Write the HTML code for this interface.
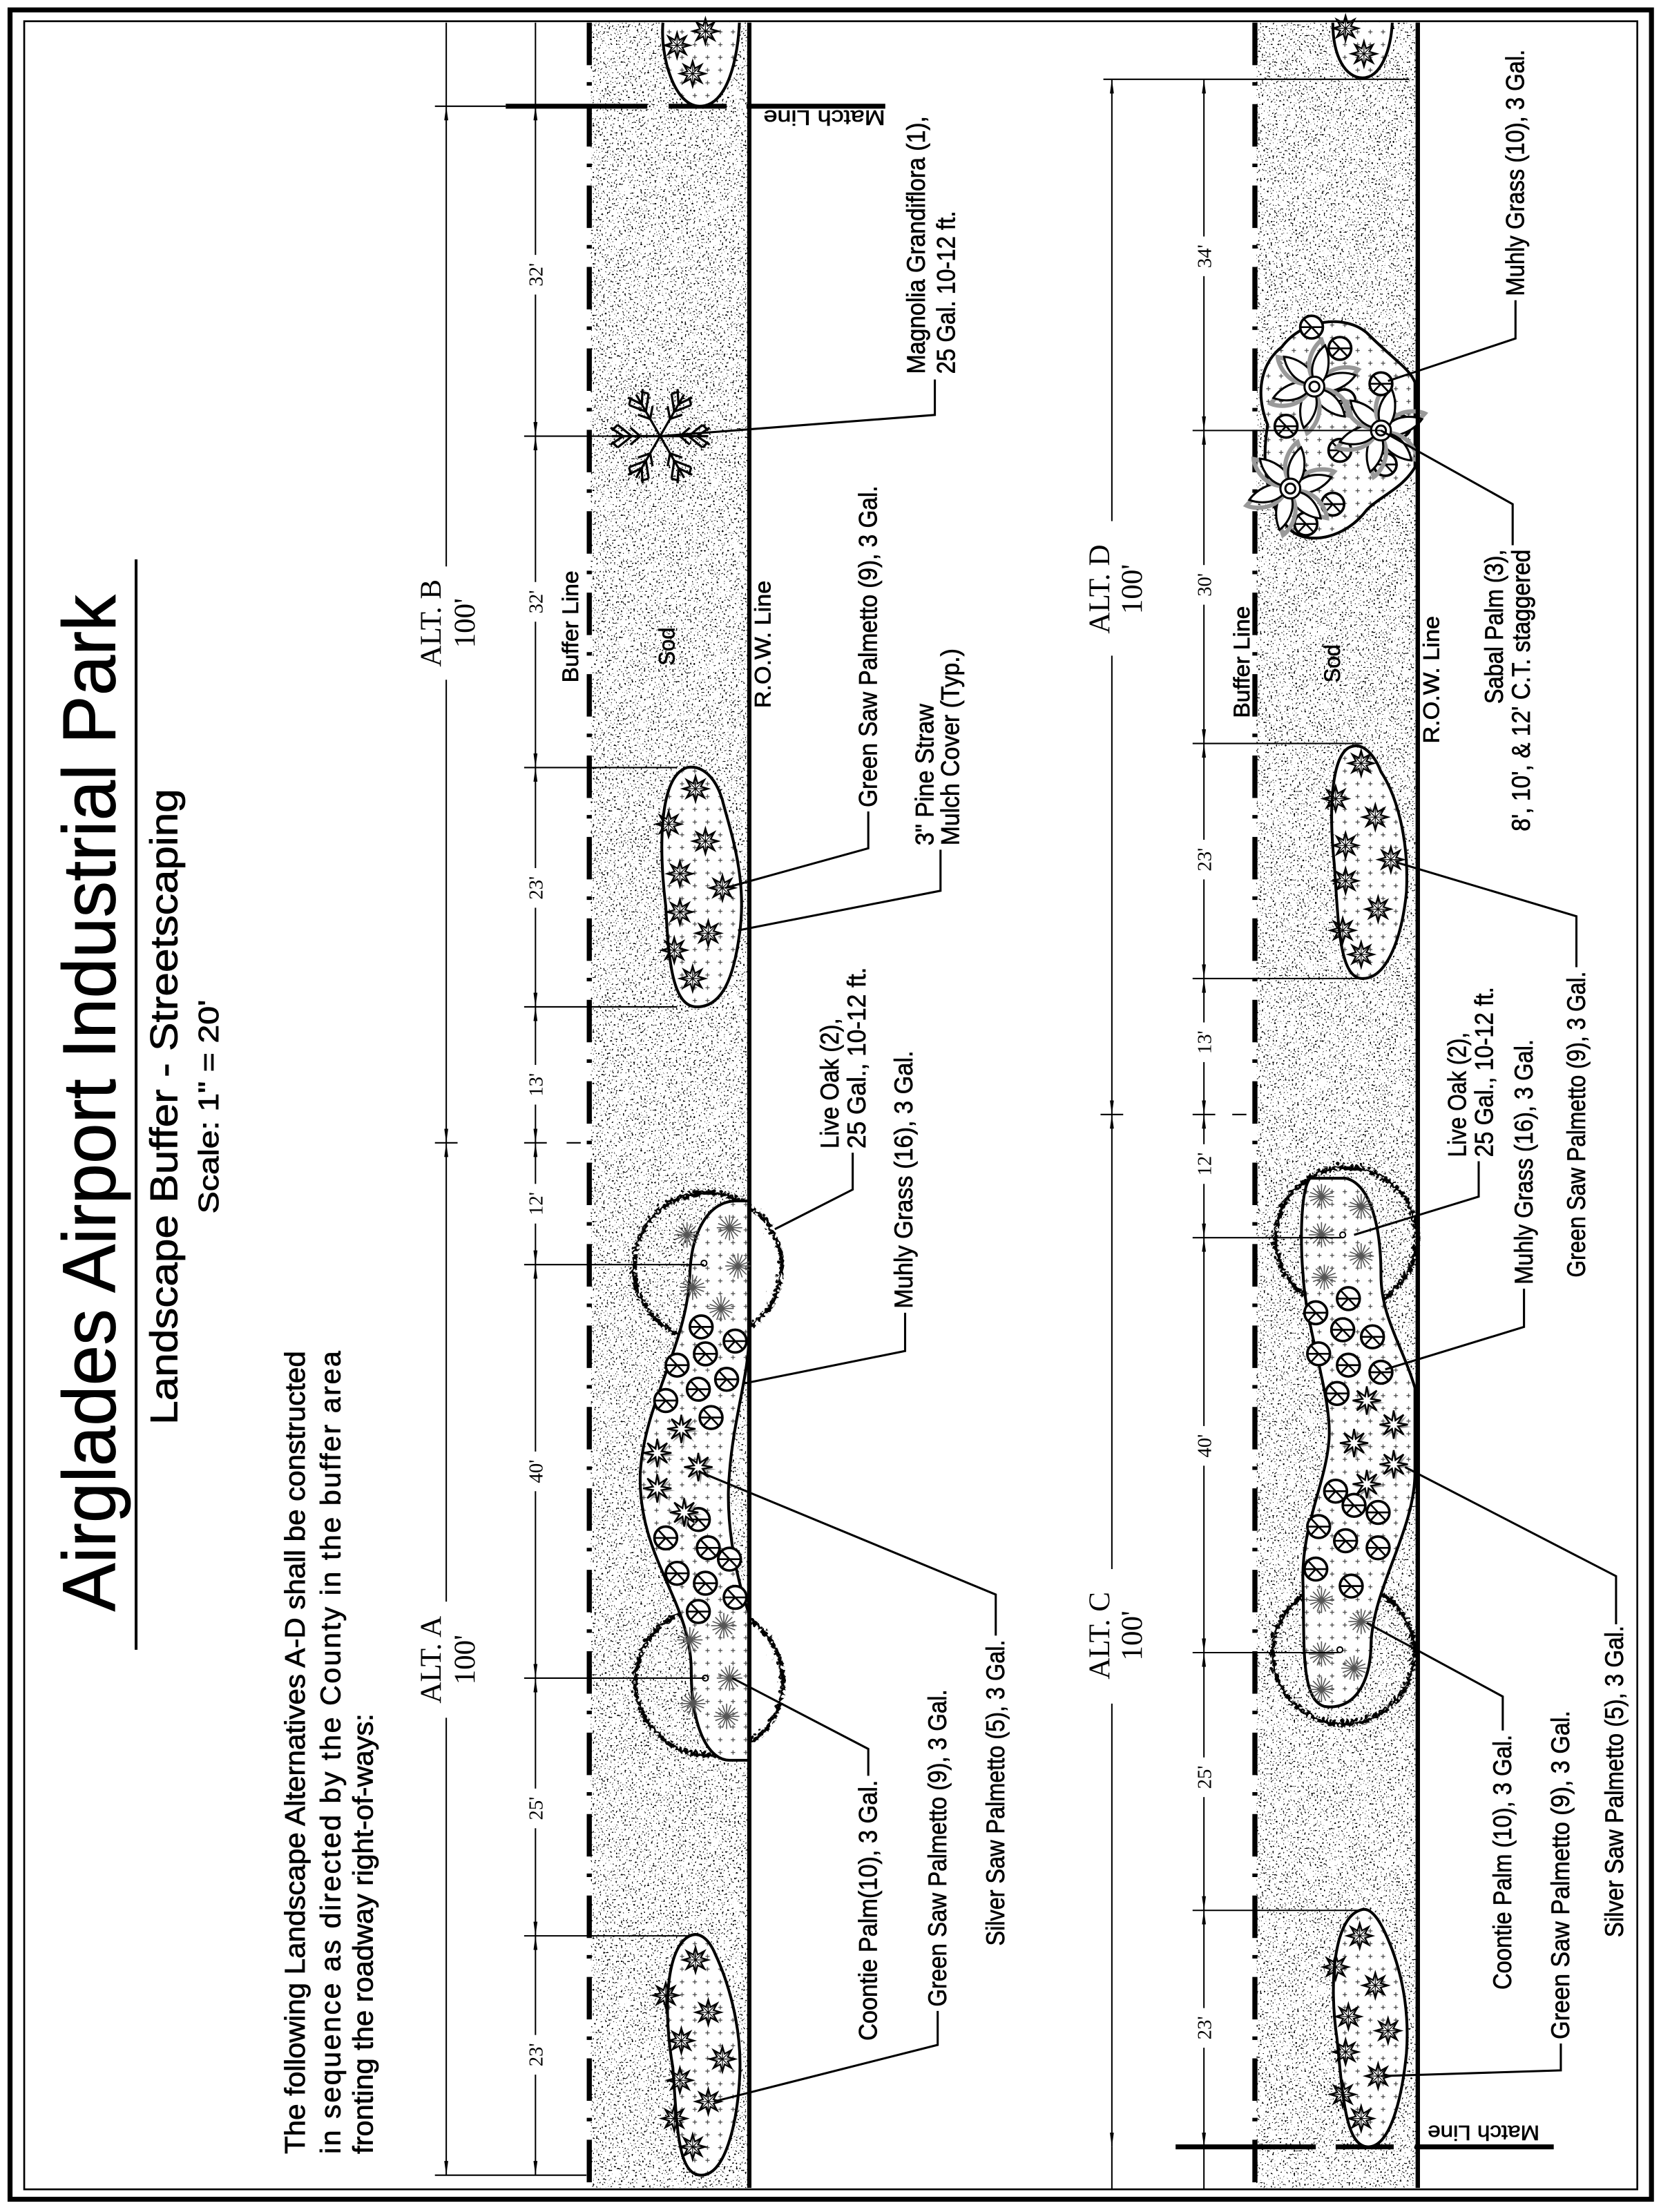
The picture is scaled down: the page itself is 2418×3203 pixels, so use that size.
<!DOCTYPE html>
<html><head><meta charset="utf-8"><style>
html,body{margin:0;padding:0;background:#fff}
svg{display:block}
.l{font-family:"Liberation Sans",Arial,sans-serif;fill:#000}
.s{font-family:"Liberation Serif",serif;fill:#000}
</style></head><body>
<svg xmlns="http://www.w3.org/2000/svg" xmlns:xlink="http://www.w3.org/1999/xlink" width="2418" height="3203" viewBox="0 0 1179 1562">
<defs>
<filter id="stip" filterUnits="userSpaceOnUse" x="0" y="0" width="1179" height="1562">
<feTurbulence type="fractalNoise" baseFrequency="0.8" numOctaves="1" seed="7" result="n"/>
<feColorMatrix in="n" type="matrix" values="0 0 0 0 0  0 0 0 0 0  0 0 0 0 0  25 0 0 0 -15.7" result="d"/>
<feComposite in="d" in2="SourceAlpha" operator="in"/>
</filter>
<filter id="wav" x="-20%" y="-20%" width="140%" height="140%">
<feTurbulence type="turbulence" baseFrequency="0.3" numOctaves="1" seed="2" result="t"/>
<feDisplacementMap in="SourceGraphic" in2="t" scale="7" xChannelSelector="R" yChannelSelector="G"/>
</filter>
<pattern id="plus" width="9" height="9" patternUnits="userSpaceOnUse">
<rect width="9" height="9" fill="#fff"/>
<path d="M3,4.5h3M4.5,3v3" stroke="#444" stroke-width="0.6"/>
</pattern>
<marker id="ar" markerWidth="10" markerHeight="4" refX="10" refY="2" orient="auto-start-reverse" markerUnits="userSpaceOnUse">
<path d="M0,0.6 L10,2 L0,3.4 Z" fill="#000"/>
</marker>
<g id="gsp" fill="none" stroke="#000" stroke-width="1.1">
<path d="M9,0 3.7,1.53 6.36,6.36 1.53,3.7 0,9 -1.53,3.7 -6.36,6.36 -3.7,1.53 -9,0 -3.7,-1.53 -6.36,-6.36 -1.53,-3.7 0,-9 1.53,-3.7 6.36,-6.36 3.7,-1.53Z"/>
<path d="M-9,0H9M0,-9V9M-6.4,-6.4L6.4,6.4M-6.4,6.4L6.4,-6.4" stroke-width="0.6"/>
</g>
<g id="mu" fill="none" stroke="#000" stroke-width="1.8">
<circle r="8" fill="#fff"/>
<path d="M-8,0H8M0,0L-5.5,5.8M0,0L5.5,5.8M0,0L-5.5,-5.8" stroke-width="1.3"/>
</g>
<g id="sv">
<path d="M11,0 3,1.2 7.8,7.8 1.2,3 0,11 -1.2,3 -7.8,7.8 -3,1.2 -11,0 -3,-1.2 -7.8,-7.8 -1.2,-3 0,-11 1.2,-3 7.8,-7.8 3,-1.2Z" fill="#999" transform="translate(1.5,1.5)"/>
<path d="M10,0 3,1.2 7,7 1.2,3 0,10 -1.2,3 -7,7 -3,1.2 -10,0 -3,-1.2 -7,-7 -1.2,-3 0,-10 1.2,-3 7,-7 3,-1.2Z" fill="#fff" stroke="#000" stroke-width="1.2"/>
</g>
<g id="co" stroke="#555" stroke-width="0.8" fill="none">
<path d="M-9,0H9M0,-9V9M-6,-6L6,6M-6,6L6,-6M-8,-3L8,3M-8,3L8,-3M-3,-8L3,8M3,-8L-3,8"/>
</g>
<g id="sab" fill="#fff" stroke="#000" stroke-width="1.5">
<g id="pet"><path d="M4,-3 C12,-14 26,-12 30,-10 C24,-3 14,4 4,3Z" fill="none" stroke="#999" stroke-width="3" transform="translate(1,-2)"/><path d="M4,-3 C12,-12 24,-10 29,-8 C24,-1 14,5 4,3Z"/></g>
<use xlink:href="#pet" transform="rotate(60)"/><use xlink:href="#pet" transform="rotate(120)"/><use xlink:href="#pet" transform="rotate(180)"/><use xlink:href="#pet" transform="rotate(240)"/><use xlink:href="#pet" transform="rotate(300)"/>
<circle r="7"/><circle r="3.5"/>
</g>
<g id="mag" fill="none" stroke="#000" stroke-width="1.6">
<g id="br"><path d="M0,0L34,0M20,0L30,-8M20,0L30,8M26,0L35,-6M26,0L35,6M14,0L21,-6M14,0L21,6M30,-8L34,-4M30,8L34,4"/></g>
<use xlink:href="#br" transform="rotate(60)"/><use xlink:href="#br" transform="rotate(120)"/><use xlink:href="#br" transform="rotate(180)"/><use xlink:href="#br" transform="rotate(240)"/><use xlink:href="#br" transform="rotate(300)"/>
</g>
</defs>

<rect width="1179" height="1562" fill="#fff"/>

<g filter="url(#stip)">
<rect x="417" y="16" width="112" height="1529" fill="#000"/>
<rect x="887" y="16" width="114" height="1529" fill="#000"/>
</g>

<rect x="7" y="7" width="1159" height="1546" fill="none" stroke="#000" stroke-width="3.5"/>
<rect x="17" y="15" width="1139" height="1531" fill="none" stroke="#000" stroke-width="1.3"/>

<g stroke="#000" fill="none">
<path d="M416,16V1545M886,16V1545" stroke-width="3.6" stroke-dasharray="30 12 2.5 13"/>
<path d="M529,16V1545M1001,16V1545" stroke-width="3"/>
</g>

<g class="l" stroke="#000" stroke-width="0.4">
<text style="font-size:53px" transform="translate(81,1138) rotate(-90)" textLength="718" lengthAdjust="spacingAndGlyphs">Airglades Airport Industrial Park</text>
<text style="font-size:27px" transform="translate(125,1006) rotate(-90)" textLength="449" lengthAdjust="spacingAndGlyphs">Landscape Buffer - Streetscaping</text>
<text style="font-size:20px" transform="translate(154,857) rotate(-90)" textLength="151" lengthAdjust="spacingAndGlyphs">Scale: 1" = 20'</text>
<text style="font-size:20px" transform="translate(215,1521) rotate(-90)" textLength="567" lengthAdjust="spacingAndGlyphs">The following Landscape Alternatives A-D shall be constructed</text>
<text style="font-size:20px" transform="translate(240,1521) rotate(-90)" textLength="567" lengthAdjust="spacing">in sequence as directed by the County in the buffer area</text>
<text style="font-size:20px" transform="translate(263,1521) rotate(-90)" textLength="311" lengthAdjust="spacingAndGlyphs">fronting the roadway right-of-ways:</text>
</g>
<path d="M96,395V1165" stroke="#000" stroke-width="2"/>

<g stroke="#000">
<path d="M307,75H357" stroke-width="1"/>
<path d="M357,75H457M472,75H513M527,75H625" stroke-width="3.5"/>
<path d="M779,56H995" stroke-width="1"/>
<path d="M830,1516H929M943,1516H984M999,1516H1097" stroke-width="3.5"/>
</g>
<g class="l" style="font-size:15px" stroke="#000" stroke-width="0.3">
<text transform="translate(625,78) rotate(180)" textLength="86" lengthAdjust="spacingAndGlyphs">Match Line</text>
<text transform="translate(1087,1501) rotate(180)" textLength="79" lengthAdjust="spacingAndGlyphs">Match Line</text>
</g>

<!-- STRIP 1 -->
<path d="M468,16 C466,40 476,75 494,75 C514,75 521,40 522,16" fill="url(#plus)" stroke="#000" stroke-width="2"/>
<use xlink:href="#gsp" x="478" y="32"/><use xlink:href="#gsp" x="498" y="22"/><use xlink:href="#gsp" x="489" y="52"/>
<use xlink:href="#mag" x="466" y="308"/>
<path d="M485,542 C465,548 465,600 470,640 C472,680 475,711 492,711 C510,711 518,690 522,660 C528,620 515,585 510,565 C505,548 495,540 485,542 Z" fill="url(#plus)" stroke="#000" stroke-width="2"/>
<use xlink:href="#gsp" x="491" y="557"/><use xlink:href="#gsp" x="472" y="582"/><use xlink:href="#gsp" x="498" y="594"/><use xlink:href="#gsp" x="480" y="617"/><use xlink:href="#gsp" x="510" y="627"/><use xlink:href="#gsp" x="480" y="644"/><use xlink:href="#gsp" x="500" y="659"/><use xlink:href="#gsp" x="476" y="671"/><use xlink:href="#gsp" x="489" y="691"/>
<g filter="url(#wav)" fill="none" stroke="#000" stroke-width="3">
<circle cx="497" cy="892" r="52"/><circle cx="498" cy="1185" r="52"/>
</g>
<path d="M520,848 C500,848 488,870 487,900 C485,950 455,990 452,1040 C450,1100 488,1130 488,1180 C488,1220 500,1243 515,1243 L529,1243 L529,1140 C518,1110 512,1070 515,1040 C518,1000 529,970 529,940 L529,848 Z" fill="url(#plus)" stroke="#000" stroke-width="2"/>
<path d="M529,848V1243" stroke="#000" stroke-width="3"/>
<g>
<use xlink:href="#co" x="485" y="872"/><use xlink:href="#co" x="515" y="867"/><use xlink:href="#co" x="521" y="894"/><use xlink:href="#co" x="489" y="909"/><use xlink:href="#co" x="509" y="924"/>
<use xlink:href="#co" x="487" y="1158"/><use xlink:href="#co" x="511" y="1148"/><use xlink:href="#co" x="515" y="1185"/><use xlink:href="#co" x="489" y="1203"/><use xlink:href="#co" x="513" y="1212"/>
<circle cx="497" cy="892" r="2" fill="none" stroke="#000"/><circle cx="498" cy="1185" r="2" fill="none" stroke="#000"/>
<use xlink:href="#mu" x="495" y="937"/><use xlink:href="#mu" x="519" y="947"/><use xlink:href="#mu" x="478" y="964"/><use xlink:href="#mu" x="498" y="956"/><use xlink:href="#mu" x="493" y="981"/><use xlink:href="#mu" x="513" y="974"/><use xlink:href="#mu" x="470" y="989"/><use xlink:href="#mu" x="502" y="1001"/>
<use xlink:href="#mu" x="493" y="1073"/><use xlink:href="#mu" x="470" y="1086"/><use xlink:href="#mu" x="500" y="1093"/><use xlink:href="#mu" x="515" y="1101"/><use xlink:href="#mu" x="478" y="1111"/><use xlink:href="#mu" x="498" y="1118"/><use xlink:href="#mu" x="519" y="1128"/><use xlink:href="#mu" x="493" y="1138"/>
<use xlink:href="#sv" x="481" y="1009"/><use xlink:href="#sv" x="464" y="1026"/><use xlink:href="#sv" x="493" y="1036"/><use xlink:href="#sv" x="464" y="1051"/><use xlink:href="#sv" x="483" y="1068"/>
</g>
<path d="M487,1367 C470,1375 468,1420 475,1460 C478,1500 478,1536 495,1536 C512,1536 520,1500 522,1470 C525,1430 512,1395 505,1380 C500,1368 493,1364 487,1367 Z" fill="url(#plus)" stroke="#000" stroke-width="2"/>
<use xlink:href="#gsp" x="491" y="1384"/><use xlink:href="#gsp" x="470" y="1409"/><use xlink:href="#gsp" x="500" y="1421"/><use xlink:href="#gsp" x="481" y="1441"/><use xlink:href="#gsp" x="510" y="1454"/><use xlink:href="#gsp" x="480" y="1469"/><use xlink:href="#gsp" x="500" y="1484"/><use xlink:href="#gsp" x="476" y="1496"/><use xlink:href="#gsp" x="489" y="1516"/>

<!-- STRIP 2 -->
<path d="M941,16 C941,40 950,55 962,55 C975,55 982,35 983,16" fill="url(#plus)" stroke="#000" stroke-width="2"/>
<use xlink:href="#gsp" x="950" y="20"/><use xlink:href="#gsp" x="963" y="38"/>
<path d="M905,245 C920,225 950,222 965,235 C985,255 995,260 999,270 L999,330 C990,345 975,350 965,360 C950,380 925,385 912,375 C895,360 890,330 895,300 C885,275 892,255 905,245 Z" fill="url(#plus)" stroke="#000" stroke-width="2"/>
<use xlink:href="#mu" x="926" y="231"/><use xlink:href="#mu" x="946" y="246"/><use xlink:href="#mu" x="949" y="283"/><use xlink:href="#mu" x="908" y="301"/><use xlink:href="#mu" x="946" y="318"/><use xlink:href="#mu" x="916" y="338"/><use xlink:href="#mu" x="941" y="356"/><use xlink:href="#mu" x="922" y="370"/><use xlink:href="#mu" x="978" y="328"/><use xlink:href="#mu" x="988" y="301"/>
<use xlink:href="#sab" x="928" y="273"/><use xlink:href="#sab" x="975" y="304"/><use xlink:href="#sab" x="911" y="345"/>
<use xlink:href="#mu" x="975" y="271"/>
<path d="M955,527 C940,530 938,570 942,610 C945,650 945,691 962,691 C980,691 990,660 993,630 C995,590 985,560 975,545 C970,532 962,525 955,527 Z" fill="url(#plus)" stroke="#000" stroke-width="2"/>
<use xlink:href="#gsp" x="961" y="539"/><use xlink:href="#gsp" x="943" y="564"/><use xlink:href="#gsp" x="971" y="577"/><use xlink:href="#gsp" x="950" y="597"/><use xlink:href="#gsp" x="982" y="607"/><use xlink:href="#gsp" x="950" y="622"/><use xlink:href="#gsp" x="973" y="642"/><use xlink:href="#gsp" x="948" y="657"/><use xlink:href="#gsp" x="961" y="674"/>
<g filter="url(#wav)" fill="none" stroke="#000" stroke-width="3">
<circle cx="948" cy="872" r="50"/><circle cx="946" cy="1165" r="50"/>
</g>
<path d="M925,832 C918,840 918,880 920,900 C922,940 942,990 938,1020 C935,1050 918,1080 920,1120 C921,1160 918,1200 935,1205 C955,1208 968,1190 968,1160 C970,1120 999,1080 999,1040 L999,980 C990,950 975,930 975,900 C975,860 965,835 950,832 Z" fill="url(#plus)" stroke="#000" stroke-width="2"/>
<use xlink:href="#co" x="933" y="845"/><use xlink:href="#co" x="961" y="852"/><use xlink:href="#co" x="933" y="872"/><use xlink:href="#co" x="961" y="887"/><use xlink:href="#co" x="935" y="902"/>
<use xlink:href="#co" x="933" y="1130"/><use xlink:href="#co" x="961" y="1145"/><use xlink:href="#co" x="933" y="1168"/><use xlink:href="#co" x="956" y="1178"/><use xlink:href="#co" x="933" y="1193"/>
<circle cx="948" cy="872" r="2" fill="none" stroke="#000"/><circle cx="946" cy="1165" r="2" fill="none" stroke="#000"/>
<use xlink:href="#mu" x="929" y="927"/><use xlink:href="#mu" x="952" y="917"/><use xlink:href="#mu" x="948" y="939"/><use xlink:href="#mu" x="969" y="944"/><use xlink:href="#mu" x="931" y="956"/><use xlink:href="#mu" x="952" y="964"/><use xlink:href="#mu" x="975" y="969"/><use xlink:href="#mu" x="944" y="984"/>
<use xlink:href="#mu" x="943" y="1053"/><use xlink:href="#mu" x="956" y="1063"/><use xlink:href="#mu" x="973" y="1068"/><use xlink:href="#mu" x="931" y="1078"/><use xlink:href="#mu" x="950" y="1088"/><use xlink:href="#mu" x="973" y="1093"/><use xlink:href="#mu" x="929" y="1108"/><use xlink:href="#mu" x="954" y="1120"/>
<use xlink:href="#sv" x="965" y="989"/><use xlink:href="#sv" x="984" y="1006"/><use xlink:href="#sv" x="956" y="1019"/><use xlink:href="#sv" x="984" y="1034"/><use xlink:href="#sv" x="965" y="1048"/>
<path d="M960,1349 C942,1355 938,1400 944,1440 C948,1480 950,1516 966,1516 C982,1516 990,1480 993,1450 C996,1410 985,1380 978,1365 C972,1352 966,1346 960,1349 Z" fill="url(#plus)" stroke="#000" stroke-width="2"/>
<use xlink:href="#gsp" x="960" y="1367"/><use xlink:href="#gsp" x="943" y="1389"/><use xlink:href="#gsp" x="971" y="1402"/><use xlink:href="#gsp" x="952" y="1424"/><use xlink:href="#gsp" x="980" y="1434"/><use xlink:href="#gsp" x="950" y="1449"/><use xlink:href="#gsp" x="973" y="1466"/><use xlink:href="#gsp" x="948" y="1479"/><use xlink:href="#gsp" x="961" y="1496"/>
<path d="M1001,16V1545" stroke="#000" stroke-width="3"/>

<!-- dimensions -->
<g stroke="#000" stroke-width="1" fill="none">
<path d="M315,75V807" marker-start="url(#ar)" marker-end="url(#ar)"/>
<path d="M315,807V1536" marker-start="url(#ar)" marker-end="url(#ar)"/>
<path d="M307,807H323M307,1536H414M400,807H410"/>
<path d="M378,16V75"/><path d="M315,16V75"/>
<path d="M378,75V308" marker-start="url(#ar)" marker-end="url(#ar)"/>
<path d="M378,308V542" marker-start="url(#ar)" marker-end="url(#ar)"/>
<path d="M378,542V711" marker-start="url(#ar)" marker-end="url(#ar)"/>
<path d="M378,711V807" marker-start="url(#ar)" marker-end="url(#ar)"/>
<path d="M378,807V893" marker-start="url(#ar)" marker-end="url(#ar)"/>
<path d="M378,893V1185" marker-start="url(#ar)" marker-end="url(#ar)"/>
<path d="M378,1185V1367" marker-start="url(#ar)" marker-end="url(#ar)"/>
<path d="M378,1367V1536" marker-start="url(#ar)" marker-end="url(#ar)"/>
<path d="M370,308H466M370,542H478M370,711H478M370,807H386M370,893H497M370,1185H498M370,1367H486"/>
<path d="M785,56V787" marker-start="url(#ar)" marker-end="url(#ar)"/>
<path d="M785,787V1516" marker-start="url(#ar)" marker-end="url(#ar)"/>
<path d="M777,787H793M870,787H880M785,1516V1546M850,1516V1546"/>
<path d="M850,56V304" marker-start="url(#ar)" marker-end="url(#ar)"/>
<path d="M850,304V525" marker-start="url(#ar)" marker-end="url(#ar)"/>
<path d="M850,525V691" marker-start="url(#ar)" marker-end="url(#ar)"/>
<path d="M850,691V787" marker-start="url(#ar)" marker-end="url(#ar)"/>
<path d="M850,787V874" marker-start="url(#ar)" marker-end="url(#ar)"/>
<path d="M850,874V1167" marker-start="url(#ar)" marker-end="url(#ar)"/>
<path d="M850,1167V1349" marker-start="url(#ar)" marker-end="url(#ar)"/>
<path d="M850,1349V1516" marker-start="url(#ar)" marker-end="url(#ar)"/>
<path d="M842,304H975M842,525H962M842,691H960M842,787H858M842,874H948M842,1167H946M842,1349H960"/>
</g>
<g fill="#fff">
<rect x="299" y="400" width="42" height="80"/><rect x="299" y="1131" width="42" height="82"/>
<rect x="769" y="368" width="42" height="95"/><rect x="769" y="1108" width="42" height="95"/>
<rect x="372" y="180" width="12" height="28"/><rect x="372" y="411" width="12" height="28"/><rect x="372" y="613" width="12" height="28"/><rect x="372" y="752" width="12" height="28"/><rect x="372" y="836" width="12" height="28"/><rect x="372" y="1025" width="12" height="28"/><rect x="372" y="1263" width="12" height="28"/><rect x="372" y="1437" width="12" height="28"/>
<rect x="844" y="167" width="12" height="28"/><rect x="844" y="399" width="12" height="28"/><rect x="844" y="593" width="12" height="28"/><rect x="844" y="722" width="12" height="28"/><rect x="844" y="808" width="12" height="28"/><rect x="844" y="1007" width="12" height="28"/><rect x="844" y="1241" width="12" height="28"/><rect x="844" y="1418" width="12" height="28"/>
</g>
<g class="s" style="font-size:14px" text-anchor="middle">
<text transform="translate(383,194) rotate(-90)">32'</text><text transform="translate(383,425) rotate(-90)">32'</text><text transform="translate(383,627) rotate(-90)">23'</text><text transform="translate(383,766) rotate(-90)">13'</text><text transform="translate(383,850) rotate(-90)">12'</text><text transform="translate(383,1039) rotate(-90)">40'</text><text transform="translate(383,1277) rotate(-90)">25'</text><text transform="translate(383,1451) rotate(-90)">23'</text>
<text transform="translate(855,181) rotate(-90)">34'</text><text transform="translate(855,413) rotate(-90)">30'</text><text transform="translate(855,607) rotate(-90)">23'</text><text transform="translate(855,736) rotate(-90)">13'</text><text transform="translate(855,822) rotate(-90)">12'</text><text transform="translate(855,1021) rotate(-90)">40'</text><text transform="translate(855,1255) rotate(-90)">25'</text><text transform="translate(855,1432) rotate(-90)">23'</text>
</g>
<g class="s" style="font-size:21px" text-anchor="middle">
<text transform="translate(311,440) rotate(-90)">ALT. B</text><text transform="translate(335,440) rotate(-90)">100'</text>
<text transform="translate(311,1172) rotate(-90)">ALT. A</text><text transform="translate(335,1172) rotate(-90)">100'</text>
<text transform="translate(783,416) rotate(-90)">ALT. D</text><text transform="translate(806,416) rotate(-90)">100'</text>
<text transform="translate(783,1155) rotate(-90)">ALT. C</text><text transform="translate(806,1155) rotate(-90)">100'</text>
</g>

<g stroke="#000" stroke-width="1.5" fill="none">
<path d="M466,308L660,293V268"/>
<path d="M512,627L613,599V573"/>
<path d="M521,657L664,629V600"/>
<path d="M547,868L602,840V814"/>
<path d="M525,977L639,954V927"/>
<path d="M517,1185L613,1235V1254"/>
<path d="M504,1484L662,1444V1420"/>
<path d="M493,1039L703,1126V1155"/>
<path d="M980,269L1070,239V212"/>
<path d="M975,304L1068,356V385"/>
<path d="M986,609L1113,647V683"/>
<path d="M956,872L1044,845V820"/>
<path d="M978,967L1076,937V910"/>
<path d="M965,1146L1061,1198V1222"/>
<path d="M975,1466L1102,1462V1443"/>
<path d="M992,1036L1141,1113V1147"/>
</g>

<g class="l" style="font-size:18px" stroke="#000" stroke-width="0.35">
<text transform="translate(653,264) rotate(-90)" textLength="182" lengthAdjust="spacingAndGlyphs">Magnolia Grandiflora (1),</text>
<text transform="translate(674,264) rotate(-90)" textLength="115" lengthAdjust="spacingAndGlyphs">25 Gal. 10-12 ft.</text>
<text transform="translate(619,570) rotate(-90)" textLength="227" lengthAdjust="spacingAndGlyphs">Green Saw Palmetto (9), 3 Gal.</text>
<text transform="translate(659,597) rotate(-90)" textLength="100" lengthAdjust="spacingAndGlyphs">3" Pine Straw</text>
<text transform="translate(677,597) rotate(-90)" textLength="139" lengthAdjust="spacingAndGlyphs">Mulch Cover (Typ.)</text>
<text transform="translate(408,482) rotate(-90)" style="font-size:16px" textLength="79" lengthAdjust="spacingAndGlyphs">Buffer Line</text>
<text transform="translate(476,470) rotate(-90)" style="font-size:16px" textLength="27" lengthAdjust="spacingAndGlyphs">Sod</text>
<text transform="translate(544,500) rotate(-90)" style="font-size:16px" textLength="90" lengthAdjust="spacingAndGlyphs">R.O.W. Line</text>
<text transform="translate(592,811) rotate(-90)" textLength="92" lengthAdjust="spacingAndGlyphs">Live Oak (2),</text>
<text transform="translate(611,811) rotate(-90)" textLength="128" lengthAdjust="spacingAndGlyphs">25 Gal., 10-12 ft.</text>
<text transform="translate(644,924) rotate(-90)" textLength="182" lengthAdjust="spacingAndGlyphs">Muhly Grass (16), 3 Gal.</text>
<text transform="translate(619,1441) rotate(-90)" textLength="184" lengthAdjust="spacingAndGlyphs">Coontie Palm(10), 3 Gal.</text>
<text transform="translate(668,1417) rotate(-90)" textLength="224" lengthAdjust="spacingAndGlyphs">Green Saw Palmetto (9), 3 Gal.</text>
<text transform="translate(709,1374) rotate(-90)" textLength="216" lengthAdjust="spacingAndGlyphs">Silver Saw Palmetto (5), 3 Gal.</text>
<text transform="translate(1076,209) rotate(-90)" textLength="174" lengthAdjust="spacingAndGlyphs">Muhly Grass (10), 3 Gal.</text>
<text transform="translate(1061,497) rotate(-90)" textLength="109" lengthAdjust="spacingAndGlyphs">Sabal Palm (3),</text>
<text transform="translate(1080,587) rotate(-90)" textLength="199" lengthAdjust="spacingAndGlyphs">8', 10', &amp; 12' C.T. staggered</text>
<text transform="translate(882,507) rotate(-90)" style="font-size:16px" textLength="79" lengthAdjust="spacingAndGlyphs">Buffer Line</text>
<text transform="translate(946,482) rotate(-90)" style="font-size:16px" textLength="27" lengthAdjust="spacingAndGlyphs">Sod</text>
<text transform="translate(1016,525) rotate(-90)" style="font-size:16px" textLength="90" lengthAdjust="spacingAndGlyphs">R.O.W. Line</text>
<text transform="translate(1119,902) rotate(-90)" textLength="216" lengthAdjust="spacingAndGlyphs">Green Saw Palmetto (9), 3 Gal.</text>
<text transform="translate(1035,817) rotate(-90)" textLength="88" lengthAdjust="spacingAndGlyphs">Live Oak (2),</text>
<text transform="translate(1054,817) rotate(-90)" textLength="120" lengthAdjust="spacingAndGlyphs">25 Gal., 10-12 ft.</text>
<text transform="translate(1082,907) rotate(-90)" textLength="173" lengthAdjust="spacingAndGlyphs">Muhly Grass (16), 3 Gal.</text>
<text transform="translate(1067,1405) rotate(-90)" textLength="180" lengthAdjust="spacingAndGlyphs">Coontie Palm (10), 3 Gal.</text>
<text transform="translate(1108,1440) rotate(-90)" textLength="232" lengthAdjust="spacingAndGlyphs">Green Saw Palmetto (9), 3 Gal.</text>
<text transform="translate(1146,1368) rotate(-90)" textLength="220" lengthAdjust="spacingAndGlyphs">Silver Saw Palmetto (5), 3 Gal.</text>
</g>
</svg>
</body></html>
